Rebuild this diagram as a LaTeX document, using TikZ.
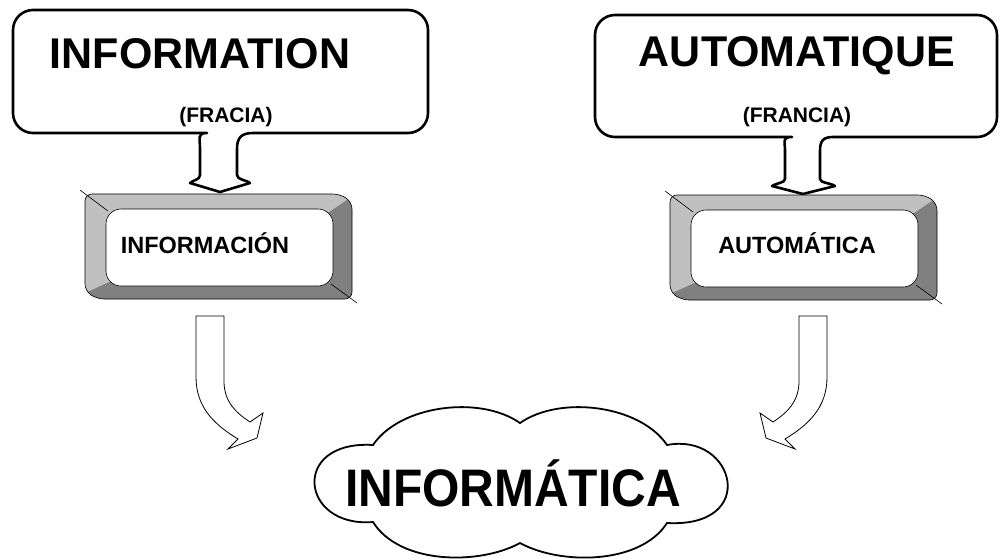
\documentclass[tikz,border=0pt]{standalone}
\usepackage{fontspec}
\setmainfont{Liberation Sans}
\usepackage{graphicx}
\definecolor{keylight}{HTML}{C0C0C0}
\definecolor{keydark}{HTML}{808080}
\tikzset{
  callout/.style={draw=black, line width=2.6pt, fill=white, line join=round},
  bigtitle/.style={font=\bfseries\fontsize{43}{50}\selectfont, anchor=base, inner sep=0pt},
  cloudtitle/.style={font=\bfseries\fontsize{48}{56}\selectfont, anchor=base, inner sep=0pt},
  subtitle/.style={font=\bfseries\fontsize{21}{25}\selectfont, anchor=base, inner sep=0pt},
  keylabel/.style={font=\bfseries\fontsize{23.5}{28}\selectfont, anchor=base, inner sep=0pt},
  bentarrow/.style={draw=black, line width=0.8pt, fill=white, line join=miter},
  cloudline/.style={draw=black, line width=1.8pt, fill=white},
}
% bevelled key: outer frame 267 x 105, white face inside
\newcommand{\bevelkey}{%
  \path[fill=keydark, rounded corners=7pt]
    (0,0) -- (255,0) -- (267,8) -- (267,105) -- (12,105) -- (0,97) -- cycle;
  \begin{scope}
    \clip[rounded corners=7pt]
      (0,0) -- (255,0) -- (267,8) -- (267,105) -- (12,105) -- (0,97) -- cycle;
    \fill[keylight] (-20,-20) -- (300,-20) -- (244,18) -- (24,88) -- (-20,108) -- cycle;
  \end{scope}
  \draw[line width=0.6pt, rounded corners=7pt]
    (0,0) -- (255,0) -- (267,8) -- (267,105) -- (12,105) -- (0,97) -- cycle;
  \draw[line width=0.6pt, fill=white, rounded corners=15pt] (21,15) rectangle (248,92);
  \draw[line width=0.6pt] (-5,-4) -- (23,17);
  \draw[line width=0.6pt] (246,90) -- (272,109);
}
\begin{document}
\begin{tikzpicture}[x=1pt, y=-1pt]
\useasboundingbox (0,0) rectangle (1000,558);

% left callout
\draw[callout] (253,133) [rounded corners=20pt] -- (428,133) -- (428,10) -- (13,10) -- (13,133) -- (187,133)
  [sharp corners] .. controls (197,133) and (200,138) .. (200,149) -- (200,175)
  .. controls (200,180) and (193,180) .. (190,183) -- (220,192) -- (250,183)
  .. controls (247,180) and (237,180) .. (237,175) -- (237,149)
  .. controls (237,138) and (241,133) .. (253,133) -- cycle;
\node[bigtitle] (information) at (200,68) {INFORMATION};
\node[subtitle] (fracia) at (226,122) {(FRACIA)};

% right callout
\draw[callout] (833,137) [rounded corners=20pt] -- (997,137) -- (997,15) -- (595,15) -- (595,137) -- (772,137)
  [sharp corners] .. controls (782,137) and (785,141) .. (785,151) -- (785,179)
  .. controls (785,183) and (776,183) .. (772,186) -- (803,194) -- (835,186)
  .. controls (831,183) and (820,183) .. (820,179) -- (820,151)
  .. controls (820,141) and (823,137) .. (833,137) -- cycle;
\node[bigtitle] (automatique) at (797,66) {AUTOMATIQUE};
\node[subtitle] (francia) at (797,122) {(FRANCIA)};

% bevelled keys
\begin{scope}[shift={(85,194)}]
  \bevelkey
\end{scope}
\node[keylabel] (informacion) at (205,253) {INFORMACIÓN};
\begin{scope}[shift={(670,195)}]
  \bevelkey
\end{scope}
\node[keylabel] (automatica) at (797,253) {AUTOMÁTICA};

% bent arrows towards the cloud
\draw[bentarrow] (196,316) -- (224,316) -- (224,383)
  .. controls (225,402) and (235,412) .. (250,422) -- (263,413) -- (257,438) -- (228,449) -- (238,439)
  .. controls (215,425) and (196,408) .. (196,377) -- cycle;
\draw[bentarrow] (827,316) -- (799,316) -- (799,383)
  .. controls (798,402) and (788,412) .. (773,422) -- (760,413) -- (766,438) -- (795,449) -- (785,439)
  .. controls (808,425) and (827,408) .. (827,377) -- cycle;

% cloud
\draw[cloudline] (373,445)
  .. controls (400,405) and (480,395) .. (520,423)
  .. controls (560,395) and (640,405) .. (667,445)
  .. controls (735,432) and (760,528) .. (667,523)
  .. controls (640,565) and (560,565) .. (520,543)
  .. controls (480,565) and (400,565) .. (373,522)
  .. controls (300,528) and (290,440) .. (373,445) -- cycle;
\node[cloudtitle] (informatica) at (513,506) {\scalebox{1}[1.1]{INFORMÁTICA}};
\end{tikzpicture}
\end{document}
